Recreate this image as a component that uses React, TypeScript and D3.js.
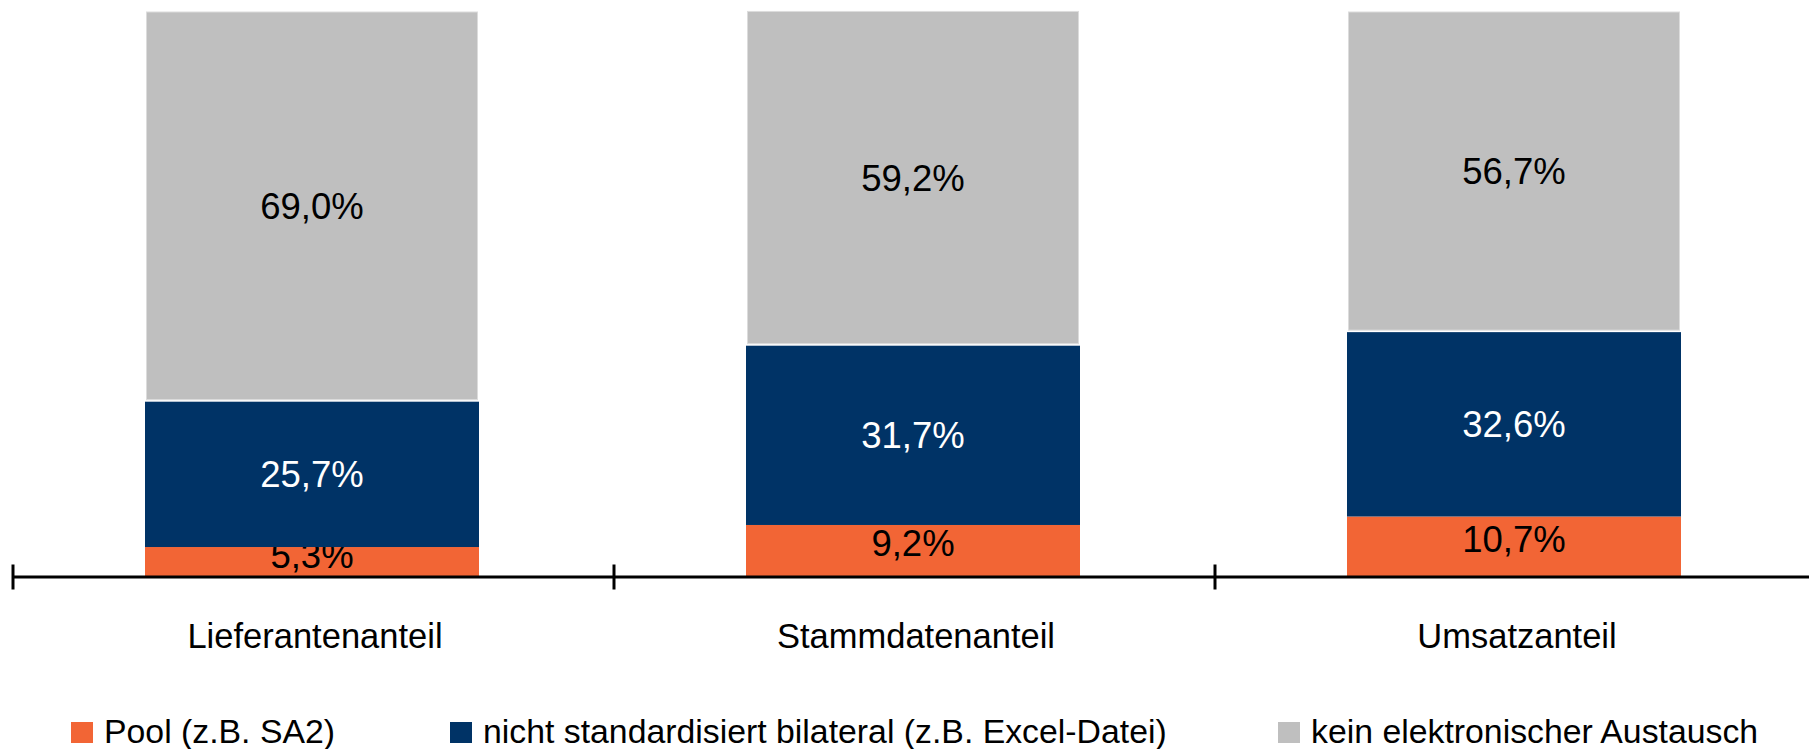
import React from "react";
import * as d3 from "d3";

const categories = ["Lieferantenanteil", "Stammdatenanteil", "Umsatzanteil"];
const seriesNames = [
  "Pool (z.B. SA2)",
  "nicht standardisiert bilateral (z.B. Excel-Datei)",
  "kein elektronischer Austausch",
];
const pool = [5.3, 9.2, 10.7];
const bilateral = [25.7, 31.7, 32.6];
const keinAustausch = [69.0, 59.2, 56.7];
const colors = ["#F26535", "#003366", "#BFBFBF"];
const labelColors = ["#000", "#fff", "#000"];

const W = 1809;
const H = 749;
const FONT = "'Liberation Sans', Arial, sans-serif";

export default function App() {
  const series = [pool, bilateral, keinAustausch];
  const band = d3.scaleBand<string>().domain(categories).range([13, 13 + 3 * 601]);
  const bw = 334;
  const y = d3.scaleLinear().domain([0, 100]).range([577, 11.5]);

  const rows = categories.map((c, i) => {
    const o: any = { cat: c };
    series.forEach((s, k) => (o["s" + k] = s[i]));
    return o;
  });
  const stack = d3.stack().keys(["s0", "s1", "s2"])(rows as any);

  const ticks = [0, 1, 2, 3].map((i) => 13 + i * band.step());
  const legendX = [71, 450, 1278];

  return (
    <svg
      width={W}
      height={H}
      style={{ position: "absolute", left: 0, top: 0, background: "#fff" }}
      fontFamily={FONT}
    >
      {stack.map((layer, k) =>
        layer.map((d, i) => {
          const cat = categories[i];
          const bx = band(cat)! + (band.step() - bw) / 2 - 1.5;
          const y0 = y(d[0]);
          const y1 = y(d[1]);
          const isGray = k === 2;
          const val = series[k][i];
          const cy = (y0 + y1) / 2 - (k === 0 ? 7 : 0);
          return (
            <g key={k + "-" + i}>
              {isGray ? (
                <rect
                  x={bx + 1.5}
                  y={y1 + 0.5}
                  width={bw - 3}
                  height={y0 - y1 - 2.5}
                  fill={colors[k]}
                  stroke="#dcdcdc"
                  strokeWidth={1}
                />
              ) : (
                <rect x={bx} y={y1} width={bw} height={y0 - y1} fill={colors[k]} />
              )}
              <text
                x={bx + bw / 2}
                y={cy + 12.5}
                textAnchor="middle"
                fontSize={36.5}
                fill={labelColors[k]}
              >
                {val.toFixed(1).replace(".", ",") + "%"}
              </text>
            </g>
          );
        })
      )}
      <line x1={13} x2={W} y1={y(0)} y2={y(0)} stroke="#000" strokeWidth={3} />
      {ticks.map((t, i) => (
        <line key={i} x1={t} x2={t} y1={y(0) - 12.5} y2={y(0) + 12.5} stroke="#000" strokeWidth={3} />
      ))}
      {categories.map((c) => (
        <text
          key={c}
          x={band(c)! + band.bandwidth() / 2 + 1.5}
          y={648}
          textAnchor="middle"
          fontSize={34.5}
          fill="#000"
        >
          {c}
        </text>
      ))}
      {seriesNames.map((n, k) => (
        <g key={n}>
          <rect x={legendX[k]} y={722} width={22} height={21} fill={colors[k]} />
          <text x={legendX[k] + 33} y={743} fontSize={33.8} fill="#000">
            {n}
          </text>
        </g>
      ))}
    </svg>
  );
}
